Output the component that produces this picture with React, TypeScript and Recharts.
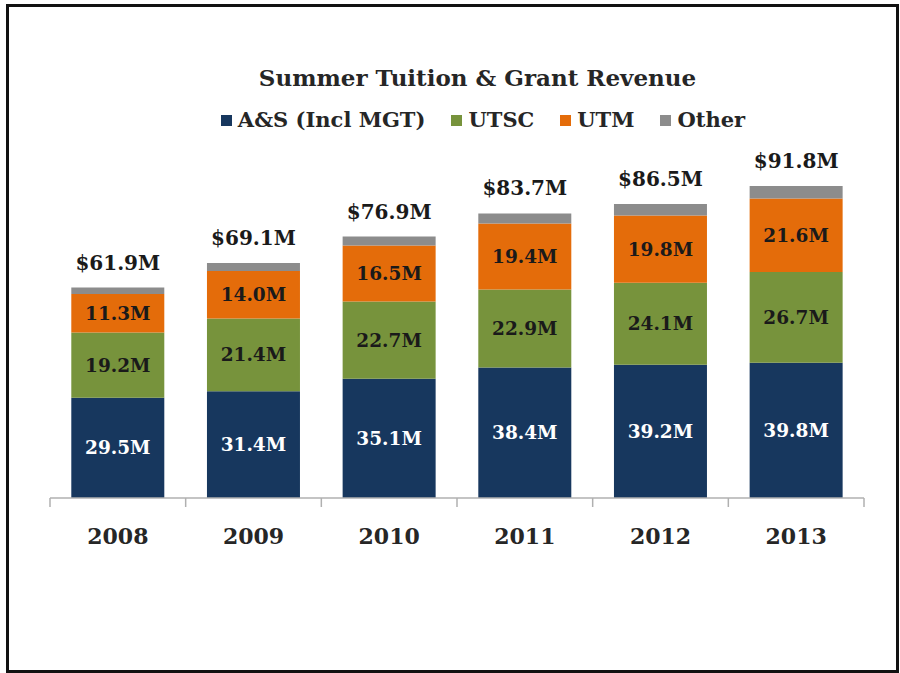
import React from 'react';
import { BarChart, Bar, XAxis, YAxis, LabelList } from 'recharts';

const years = ['2008', '2009', '2010', '2011', '2012', '2013'];
const asValues = [29.5, 31.4, 35.1, 38.4, 39.2, 39.8];
const utscValues = [19.2, 21.4, 22.7, 22.9, 24.1, 26.7];
const utmValues = [11.3, 14.0, 16.5, 19.4, 19.8, 21.6];
const otherValues = [1.9, 2.3, 2.6, 3.0, 3.4, 3.7];
const totalValues = [61.9, 69.1, 76.9, 83.7, 86.5, 91.8];

const seriesNames = ['A&S (Incl MGT)', 'UTSC', 'UTM', 'Other'];
const seriesColors = ['#17375E', '#77933C', '#E46C0A', '#8C8C8C'];

const data = years.map((year, i) => ({
  year,
  as: asValues[i],
  utsc: utscValues[i],
  utm: utmValues[i],
  other: otherValues[i],
  total: totalValues[i],
}));

const FONT = '"DejaVu Serif", serif';

const YearTick = (props: any) => {
  const { x, y, payload, index, visibleTicksCount } = props;
  const half = payload && payload.offset ? payload.offset : 67.8;
  const isLast = index === visibleTicksCount - 1;
  return (
    <g>
      <line x1={x - half} x2={x - half} y1={y} y2={y + 9} stroke="#b0b0b0" strokeWidth={1.5} />
      {isLast ? (
        <line x1={x + half} x2={x + half} y1={y} y2={y + 9} stroke="#b0b0b0" strokeWidth={1.5} />
      ) : null}
      <text
        x={x}
        y={y + 46}
        textAnchor="middle"
        fontFamily={FONT}
        fontWeight="bold"
        fontSize={22}
        fill="#262626"
      >
        {payload.value}
      </text>
    </g>
  );
};

const fmtInner = (v: any) => `${Number(v).toFixed(1)}M`;
const fmtTotal = (v: any) => `$${Number(v).toFixed(1)}M`;

export default function App() {
  return (
    <div style={{ position: 'absolute', left: 0, top: 0, width: 900, height: 673, background: '#fff' }}>
      <div
        style={{
          position: 'absolute',
          left: 6,
          top: 4,
          width: 893,
          height: 669,
          border: '3px solid #111',
          boxSizing: 'border-box',
        }}
      />
      <div
        style={{
          position: 'absolute',
          left: 0,
          top: 66,
          width: 955,
          textAlign: 'center',
          fontFamily: FONT,
          fontWeight: 'bold',
          fontSize: 23,
          lineHeight: '23px',
          color: '#262626',
        }}
      >
        Summer Tuition &amp; Grant Revenue
      </div>
      <div
        style={{
          position: 'absolute',
          left: 0,
          top: 108,
          width: 966,
          display: 'flex',
          justifyContent: 'center',
          fontFamily: FONT,
          fontWeight: 'bold',
          fontSize: 21,
          lineHeight: '24px',
          color: '#262626',
        }}
      >
        {seriesNames.map((name, i) => (
          <div key={name} style={{ display: 'flex', alignItems: 'center', marginRight: i < 3 ? 26 : 0 }}>
            <span
              style={{
                display: 'inline-block',
                width: 11,
                height: 11,
                background: seriesColors[i],
                marginRight: 6,
              }}
            />
            <span>{name}</span>
          </div>
        ))}
      </div>
      <div style={{ position: 'absolute', left: 0, top: 0 }}>
        <BarChart
          width={900}
          height={673}
          data={data}
          margin={{ top: 158, right: 36, left: 50, bottom: 115 }}
          barCategoryGap="15.7%"
        >
          <YAxis hide domain={[0, 100]} />
          <XAxis
            dataKey="year"
            height={60}
            tickLine={false}
            tickSize={0}
            tickMargin={0}
            axisLine={{ stroke: '#b0b0b0', strokeWidth: 1.5 }}
            tick={<YearTick />}
            interval={0}
          />
          <Bar dataKey="as" stackId="a" fill={seriesColors[0]} isAnimationActive={false}>
            <LabelList
              dataKey="as"
              position="center"
              formatter={fmtInner}
              fill="#ffffff"
              fontFamily={FONT}
              fontWeight="bold"
              fontSize={18.5}
            />
          </Bar>
          <Bar dataKey="utsc" stackId="a" fill={seriesColors[1]} isAnimationActive={false}>
            <LabelList
              dataKey="utsc"
              position="center"
              formatter={fmtInner}
              fill="#1a1a1a"
              fontFamily={FONT}
              fontWeight="bold"
              fontSize={18.5}
            />
          </Bar>
          <Bar dataKey="utm" stackId="a" fill={seriesColors[2]} isAnimationActive={false}>
            <LabelList
              dataKey="utm"
              position="center"
              formatter={fmtInner}
              fill="#1a1a1a"
              fontFamily={FONT}
              fontWeight="bold"
              fontSize={18.5}
            />
          </Bar>
          <Bar dataKey="other" stackId="a" fill={seriesColors[3]} isAnimationActive={false}>
            <LabelList
              dataKey="total"
              position="top"
              offset={18}
              formatter={fmtTotal}
              fill="#1a1a1a"
              fontFamily={FONT}
              fontWeight="bold"
              fontSize={20}
            />
          </Bar>
        </BarChart>
      </div>
    </div>
  );
}
